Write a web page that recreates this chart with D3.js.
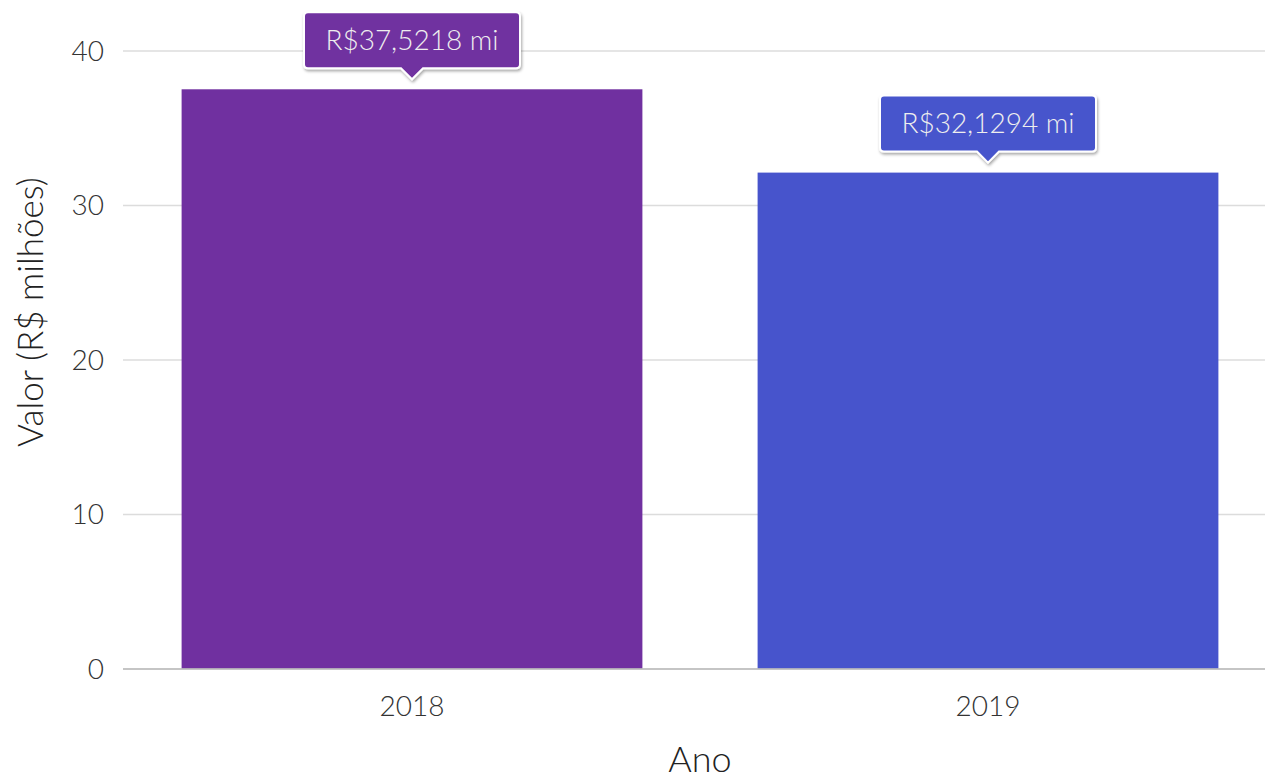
<!DOCTYPE html>
<html>
<head>
<meta charset="utf-8">
<script src="https://cdn.jsdelivr.net/npm/d3@7"></script>
<style>
  body { margin: 0; background: #fff; }
  text { font-family: Lato, "Open Sans", sans-serif; font-weight: 300; }
</style>
</head>
<body>
<svg id="chart"></svg>
<script>
// data
const years = ["2018", "2019"];
const values = [37.5218, 32.1294];
const labels = ["R$37,5218 mi", "R$32,1294 mi"];
const colors = ["#7030A0", "#4754CC"];
const yTicks = [0, 10, 20, 30, 40];

const W = 1265, H = 780;
const margin = { top: 51, right: 0, bottom: 111, left: 123 };
const height = H - margin.top - margin.bottom;

const svg = d3.select("#chart").attr("width", W).attr("height", H);

// drop shadow for the label boxes
const defs = svg.append("defs");
const f = defs.append("filter").attr("id", "shadow")
  .attr("x", "-10%").attr("y", "-20%").attr("width", "130%").attr("height", "160%");
f.append("feDropShadow").attr("dx", 1).attr("dy", 2).attr("stdDeviation", 1.5)
  .attr("flood-color", "#000").attr("flood-opacity", 0.35);

const g = svg.append("g").attr("transform", `translate(0,${margin.top})`);

const x = d3.scaleBand().domain(years).range([124, 1276])
  .paddingInner(0.2).paddingOuter(0.1);
const y = d3.scaleLinear().domain([0, 40]).range([height, 0]);

// gridlines
g.selectAll(".grid")
  .data(yTicks.filter((d) => d > 0))
  .enter()
  .append("line")
  .attr("x1", margin.left)
  .attr("x2", W)
  .attr("y1", (d) => y(d))
  .attr("y2", (d) => y(d))
  .attr("stroke", "#dcdcdc")
  .attr("stroke-width", 1.5);

// y tick labels
g.selectAll(".ytick")
  .data(yTicks)
  .enter()
  .append("text")
  .attr("x", 104)
  .attr("y", (d) => y(d))
  .attr("dy", "0.35em")
  .attr("text-anchor", "end")
  .style("font-size", "28px")
  .attr("fill", "#333")
  .text((d) => d);

// bars
g.selectAll(".bar")
  .data(years)
  .enter()
  .append("rect")
  .attr("x", (d) => x(d))
  .attr("width", x.bandwidth())
  .attr("y", (d, i) => y(values[i]))
  .attr("height", (d, i) => y(0) - y(values[i]))
  .attr("fill", (d, i) => colors[i]);

// baseline
g.append("line")
  .attr("x1", margin.left).attr("x2", W)
  .attr("y1", y(0)).attr("y2", y(0))
  .attr("stroke", "#bbb").attr("stroke-width", 2).attr("stroke-opacity", 0.85);

// x tick labels
g.selectAll(".xtick")
  .data(years)
  .enter()
  .append("text")
  .attr("x", (d) => x(d) + x.bandwidth() / 2)
  .attr("y", y(0) + 37)
  .attr("dy", "0.35em")
  .attr("text-anchor", "middle")
  .style("font-size", "28px")
  .attr("fill", "#333")
  .text((d) => d);

// value labels (callout boxes)
const bw = 216, bh = 56, ah = 11;
const callouts = g.selectAll(".callout")
  .data(years)
  .enter()
  .append("g")
  .attr("transform", (d, i) => `translate(${x(d) + x.bandwidth() / 2},${y(values[i]) - 10})`);

callouts.append("path")
  .attr("d", () => {
    const l = -bw / 2, r = bw / 2, b = -ah, t = -ah - bh, rr = 4;
    return `M${l + rr},${t} H${r - rr} Q${r},${t} ${r},${t + rr} V${b - rr} Q${r},${b} ${r - rr},${b}` +
      ` H${ah} L0,0 L${-ah},${b} H${l + rr} Q${l},${b} ${l},${b - rr} V${t + rr} Q${l},${t} ${l + rr},${t} Z`;
  })
  .attr("fill", (d, i) => colors[i])
  .attr("stroke", "#fff")
  .attr("stroke-width", 2)
  .attr("filter", "url(#shadow)");

callouts.append("text")
  .attr("x", 0)
  .attr("y", -ah - bh / 2)
  .attr("dy", "0.35em")
  .attr("text-anchor", "middle")
  .style("font-size", "28px")
  .attr("fill", "#eee")
  .text((d, i) => labels[i]);

// axis titles
svg.append("text")
  .attr("transform", "translate(31,312) rotate(-90)")
  .attr("text-anchor", "middle")
  .attr("dy", "0.35em")
  .style("font-size", "35px")
  .attr("fill", "#222")
  .text("Valor (R$ milhões)");

svg.append("text")
  .attr("x", 700)
  .attr("y", 772)
  .attr("text-anchor", "middle")
  .style("font-size", "36px")
  .attr("fill", "#222")
  .text("Ano");
</script>
</body>
</html>
